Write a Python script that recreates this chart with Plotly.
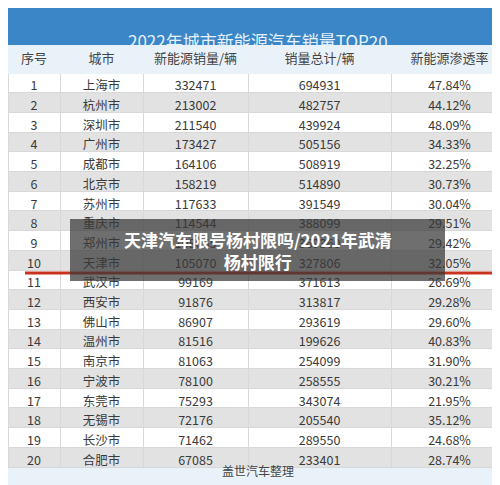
import plotly.graph_objects as go

rank = list(range(1, 21))
cities = ["上海市", "杭州市", "深圳市", "广州市", "成都市", "北京市", "苏州市", "重庆市", "郑州市", "天津市",
          "武汉市", "西安市", "佛山市", "温州市", "南京市", "宁波市", "东莞市", "无锡市", "长沙市", "合肥市"]
nev_sales = [332471, 213002, 211540, 173427, 164106, 158219, 117633, 114544, 108665, 105070,
             99169, 91876, 86907, 81516, 81063, 78100, 75293, 72176, 71462, 67085]
total_sales = [694931, 482757, 439924, 505156, 508919, 514890, 391549, 388099, 369360, 327806,
               371613, 313817, 293619, 199626, 254099, 258555, 343074, 205540, 289550, 233401]
penetration = ["47.84%", "44.12%", "48.09%", "34.33%", "32.25%", "30.73%", "30.04%", "29.51%", "29.42%", "32.05%",
               "26.69%", "29.28%", "29.60%", "40.83%", "31.90%", "30.21%", "21.95%", "35.12%", "24.68%", "28.74%"]
headers = ["序号", "城市", "新能源销量/辆", "销量总计/辆", "新能源渗透率"]

W, H = 500, 485
fill = [["#ffffff" if i % 2 == 0 else "#e2e2e2" for i in range(20)]] * 5

fig = go.Figure(go.Table(
    domain=dict(x=[0, 1], y=[20 / H, 1 - 37 / H]),
    columnwidth=[52, 83, 105, 143, 117],
    header=dict(values=headers, fill_color="#eaf2f9", line_color="#eaf2f9", height=28,
                font=dict(family="Noto Sans CJK SC", size=13, color="#444")),
    cells=dict(values=[rank, cities, nev_sales, total_sales, penetration],
               fill_color=fill, line_color="#d8d8d8", height=19.7,
               font=dict(family="Noto Sans CJK SC", size=12.5, color="#3a3a3a")),
))

def py(p):
    return 1 - p / H

fig.add_shape(type="rect", xref="paper", yref="paper", x0=0, x1=1, y0=py(37), y1=1,
              fillcolor="#3a86c6", line_width=0, layer="above")
fig.add_annotation(text="2022年城市新能源汽车销量TOP20", xref="paper", yref="paper",
                   x=0.5, y=py(18), showarrow=False,
                   font=dict(family="Noto Sans CJK SC", size=17, color="#e6f1fb"))
fig.add_shape(type="rect", xref="paper", yref="paper", x0=0, x1=1, y0=0, y1=py(460),
              fillcolor="#eaf2f9", line_width=0, layer="above")
fig.add_annotation(text="盖世汽车整理", xref="paper", yref="paper", x=0.5, y=py(473), showarrow=False,
                   font=dict(family="Noto Sans CJK SC", size=12, color="#444"))
fig.add_shape(type="line", xref="paper", yref="paper", x0=17 / W, x1=485 / W, y0=py(265), y1=py(265),
              line=dict(color="#c9331e", width=3), layer="above")
fig.add_shape(type="rect", xref="paper", yref="paper", x0=62 / W, x1=437 / W, y0=py(273), y1=py(211),
              fillcolor="rgba(55,55,55,0.72)", line_width=0, layer="above")
fig.add_annotation(text="<b>天津汽车限号杨村限吗/2021年武清<br>杨村限行</b>", xref="paper", yref="paper",
                   x=0.5, y=py(242), showarrow=False,
                   font=dict(family="Noto Sans CJK SC", size=17, color="white"))

fig.update_layout(width=W, height=H, margin=dict(l=0, r=0, t=0, b=0), paper_bgcolor="white")
fig.write_html("out.html")
